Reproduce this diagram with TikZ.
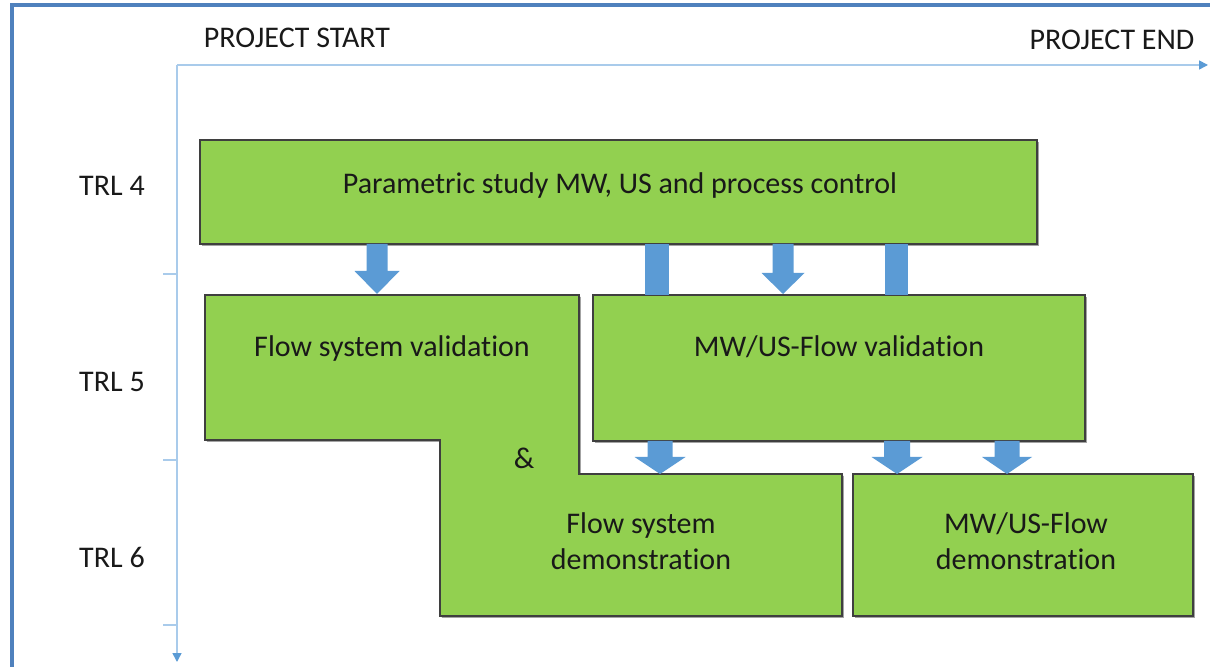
\documentclass[tikz,border=0pt]{standalone}
\usepackage{fontspec}
\setmainfont{Carlito}[Ligatures=NoCommon]
\usetikzlibrary{arrows.meta,shadows}
\definecolor{boxgreen}{HTML}{92D050}
\definecolor{boxline}{HTML}{3F3F3F}
\definecolor{arrowblue}{HTML}{5B9BD5}
\definecolor{axisblue}{HTML}{A9CBEB}
\definecolor{frameblue}{HTML}{4F81BD}
% block arrow pointing down: x, top y, tip y, half shaft width, half head width, head length
\newcommand\fatarrow[6]{%
  \fill[arrowblue] (#1-#4,#2) -- (#1+#4,#2) -- (#1+#4,#3-#6) -- (#1+#5,#3-#6)
    -- (#1,#3) -- (#1-#5,#3-#6) -- (#1-#4,#3-#6) -- cycle;}
\begin{document}
\begin{tikzpicture}[x=0.5pt,y=-0.5pt,
  stagebox/.style={fill=boxgreen,draw=boxline,line width=0.7pt,
    drop shadow={shadow xshift=0.9pt,shadow yshift=-0.9pt,fill=black!45,opacity=0.8}},
  label/.style={font=\fontsize{15}{18}\selectfont,text=black!90,inner sep=0pt},
  stagetext/.style={font=\fontsize{15}{18}\selectfont,text=black!90,align=center,inner sep=0pt},
  axis/.style={draw=axisblue,line width=0.8pt},
  tip/.style={-{Triangle[length=4.5pt,width=4.5pt,fill=arrowblue,color=arrowblue]}}]
\useasboundingbox (0,0) rectangle (1210,667);
% frame
\draw[frameblue,line width=1.6pt] (12,667) -- (12,5) -- (1210,5);
% axes
\coordinate (origin) at (177,65);
\coordinate (tend) at (1208,65);
\coordinate (lend) at (177,662);
\draw[axis,tip] (origin) -- (tend);
\draw[axis,tip] (origin) -- (lend);
\foreach \y in {274,460,625} \draw[axis] (163,\y) -- (177,\y);
\node[label] (start) at (297,38) {PROJECT START};
\node[label] (end) at (1112,40) {PROJECT END};
\node[label] (trl4) at (112,186) {TRL 4};
\node[label] (trl5) at (112,382) {TRL 5};
\node[label] (trl6) at (112,557) {TRL 6};
% stages
\path[stagebox] (200,140) rectangle (1037,244);
\node[stagetext] (param) at (620,186) {Parametric study MW, US and process control};
\path[stagebox] (205,295) -- (579,295) -- (579,474) -- (842,474) -- (842,616)
  -- (440,616) -- (440,440) -- (205,440) -- cycle;
\node[stagetext] (fsval) at (392,349) {Flow system validation};
\node[stagetext] (amp) at (524,458) {\&};
\node[stagetext] (fsdemo) at (641,541) {Flow system\\demonstration};
\path[stagebox] (593,295) rectangle (1085,441);
\node[stagetext] (mwval) at (839,347) {MW/US-Flow validation};
\path[stagebox] (853,474) rectangle (1193,616);
\node[stagetext] (mwdemo) at (1026,541) {MW/US-Flow\\demonstration};
% transfer arrows
\fatarrow{377}{244}{294}{10.5}{22.5}{23}
\fatarrow{783}{244}{294}{10.5}{21.5}{21}
\fill[arrowblue] (645,244) rectangle (669,295);
\fill[arrowblue] (885,244) rectangle (908,295);
\fatarrow{660}{441}{474}{12.5}{25.5}{17}
\fatarrow{897}{441}{474}{13}{25.5}{17}
\fatarrow{1007}{441}{474}{12.5}{25}{17}
\end{tikzpicture}
\end{document}
